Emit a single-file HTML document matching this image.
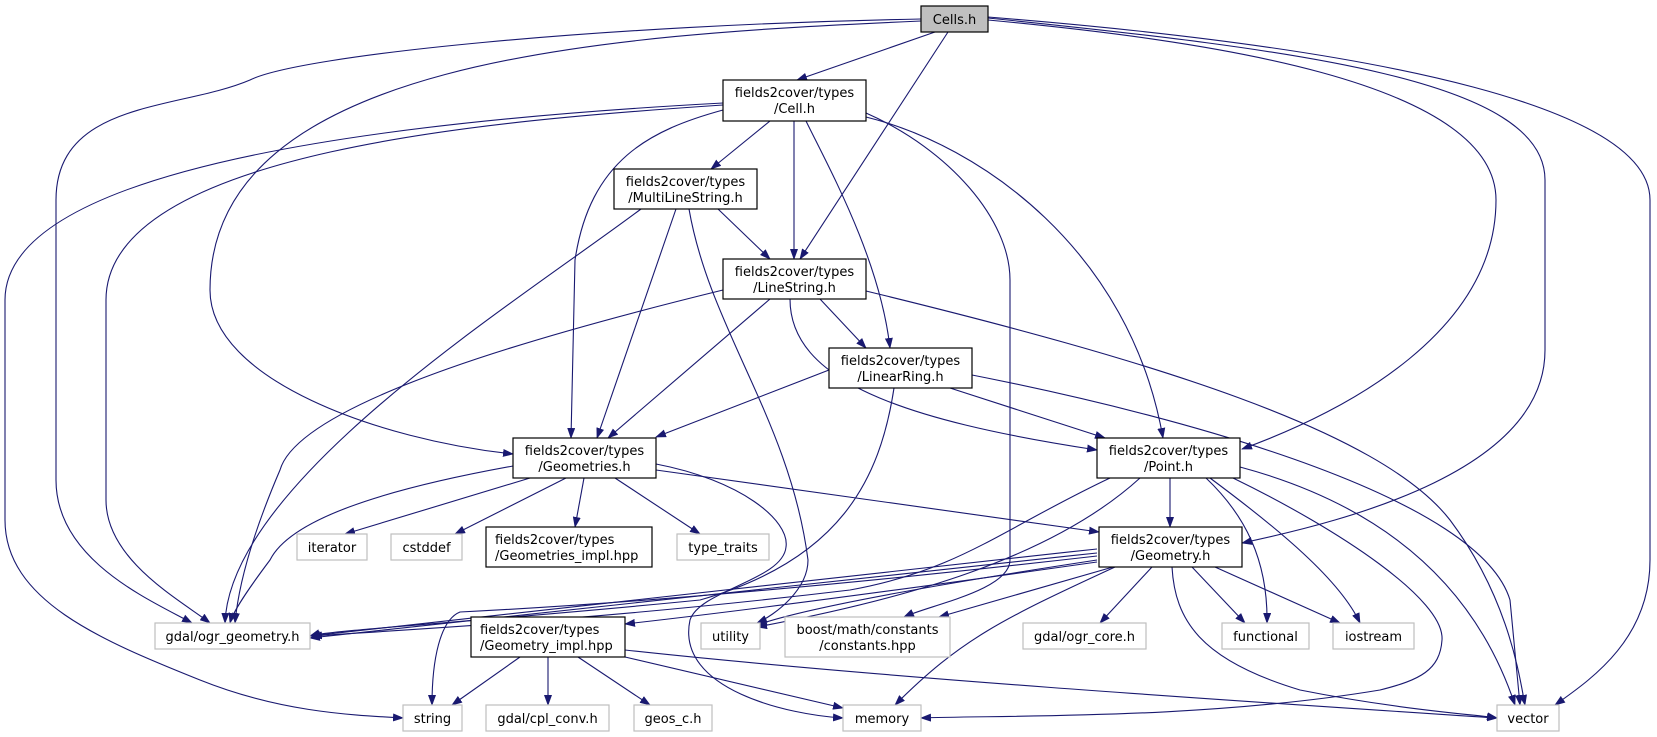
<!DOCTYPE html>
<html><head><meta charset="utf-8"><style>
html,body{margin:0;padding:0;background:#fff;}
svg{display:block;}
text{font-family:"DejaVu Sans","Liberation Sans",sans-serif;font-size:13px;fill:#000;}
.e{fill:none;stroke:#191970;stroke-width:1.1;marker-end:url(#a);}
.d{fill:#fff;stroke:#000;stroke-width:1.2;}
.x{fill:#fff;stroke:#bfbfbf;stroke-width:1.2;}
</style></head><body>
<svg width="1657" height="737" viewBox="0 0 1657 737" xmlns="http://www.w3.org/2000/svg">
<defs><marker id="a" markerWidth="11" markerHeight="8" refX="10" refY="4" orient="auto" markerUnits="userSpaceOnUse"><path d="M0,0 L11,4 L0,8 z" fill="#191970"/></marker></defs>
<g>
<path class="e" d="M935,32 L797,80"/>
<path class="e" d="M948,32 L800,259"/>
<path class="e" d="M921,19 C600,25 300,55 250,80 C180,110 56,100 56,200 L56,480 C56,560 150,600 192,623"/>
<path class="e" d="M921,21 C600,35 210,60 210,290 C210,380 380,440 513,454"/>
<path class="e" d="M988,20 C1200,40 1496,80 1496,200 C1496,330 1350,410 1242,449"/>
<path class="e" d="M988,18 C1300,50 1545,80 1545,180 L1545,350 C1545,470 1350,520 1242,543"/>
<path class="e" d="M988,17 C1400,50 1650,110 1650,200 L1650,560 C1650,640 1590,680 1555,705"/>
<path class="e" d="M770,121 L711,169"/>
<path class="e" d="M794,121 L794,259"/>
<path class="e" d="M806,121 C830,170 880,260 890,348"/>
<path class="e" d="M723,110 C650,130 590,160 575,260 L571,438"/>
<path class="e" d="M723,105 C500,120 106,150 106,300 L106,500 C106,560 180,600 210,623"/>
<path class="e" d="M723,103 C500,115 5,150 5,300 L5,520 C5,600 100,640 200,680 C280,712 350,715 403,718"/>
<path class="e" d="M866,113 C950,150 1010,220 1010,280 L1010,560 C1010,590 930,605 904,617"/>
<path class="e" d="M866,117 C980,145 1130,250 1163,438"/>
<path class="e" d="M718,209 L770,259"/>
<path class="e" d="M676,209 L597,438"/>
<path class="e" d="M641,209 C520,300 230,480 225,623"/>
<path class="e" d="M689,209 C710,330 790,420 808,560 C808,590 775,615 757,623"/>
<path class="e" d="M820,299 L866,348"/>
<path class="e" d="M770,299 L608,438"/>
<path class="e" d="M723,290 C560,330 300,400 280,470 C250,540 238,590 235,623"/>
<path class="e" d="M790,299 C790,380 900,420 1097,450"/>
<path class="e" d="M866,291 C1150,360 1380,430 1450,520 C1510,600 1520,680 1525,705"/>
<path class="e" d="M829,370 L656,437"/>
<path class="e" d="M950,388 L1105,438"/>
<path class="e" d="M894,388 C880,480 840,560 700,600 C500,620 330,630 310,636"/>
<path class="e" d="M972,375 C1200,420 1480,500 1510,600 L1520,705"/>
<path class="e" d="M656,470 L1099,532"/>
<path class="e" d="M513,466 C380,490 290,520 270,560 C240,600 232,615 230,623"/>
<path class="e" d="M530,478 L345,534"/>
<path class="e" d="M566,478 L455,534"/>
<path class="e" d="M584,478 L575,527"/>
<path class="e" d="M615,478 L700,534"/>
<path class="e" d="M656,464 C740,480 790,520 786,547 C783,580 700,590 690,620 C675,690 790,715 843,718"/>
<path class="e" d="M1170,478 L1170,527"/>
<path class="e" d="M1110,478 C1000,530 960,570 850,590 C600,620 400,630 312,636"/>
<path class="e" d="M1140,478 C1050,560 900,600 757,627"/>
<path class="e" d="M1206,478 C1245,515 1268,560 1267,623"/>
<path class="e" d="M1210,478 C1280,530 1340,580 1360,623"/>
<path class="e" d="M1233,478 C1340,530 1445,600 1442,640 C1440,670 1420,680 1380,690 C1200,720 1000,715 921,718"/>
<path class="e" d="M1240,467 C1400,510 1480,600 1515,705"/>
<path class="e" d="M1097,549 C800,580 500,615 310,636"/>
<path class="e" d="M1097,553 C800,584 500,618 310,638"/>
<path class="e" d="M1097,556 C800,590 600,605 460,612 C440,620 432,660 432,705"/>
<path class="e" d="M1097,560 C900,590 800,610 757,625"/>
<path class="e" d="M1097,562 C900,590 750,610 625,624"/>
<path class="e" d="M1113,567 L939,617"/>
<path class="e" d="M1115,567 C1000,620 960,640 895,705"/>
<path class="e" d="M1152,567 L1100,623"/>
<path class="e" d="M1192,567 L1245,623"/>
<path class="e" d="M1215,567 L1340,623"/>
<path class="e" d="M1172,567 C1175,620 1200,660 1300,690 C1400,710 1480,715 1497,718"/>
<path class="e" d="M520,657 L452,705"/>
<path class="e" d="M548,657 L548,705"/>
<path class="e" d="M578,657 L650,705"/>
<path class="e" d="M625,657 L843,708"/>
<path class="e" d="M625,650 C900,680 1300,705 1497,718"/>
</g>
<rect x="921" y="6" width="67" height="26" fill="#bfbfbf" stroke="#000" stroke-width="1.2"/>
<text x="954.5" y="24" text-anchor="middle">Cells.h</text>

<rect class="d" x="723" y="80" width="143" height="41"/>
<text x="794.5" y="97" text-anchor="middle">fields2cover/types</text>
<text x="794.5" y="113" text-anchor="middle">/Cell.h</text>

<rect class="d" x="614" y="169" width="143" height="40"/>
<text x="685.5" y="186" text-anchor="middle">fields2cover/types</text>
<text x="685.5" y="202" text-anchor="middle">/MultiLineString.h</text>

<rect class="d" x="723" y="259" width="143" height="40"/>
<text x="794.5" y="276" text-anchor="middle">fields2cover/types</text>
<text x="794.5" y="292" text-anchor="middle">/LineString.h</text>

<rect class="d" x="829" y="348" width="143" height="40"/>
<text x="900.5" y="365" text-anchor="middle">fields2cover/types</text>
<text x="900.5" y="381" text-anchor="middle">/LinearRing.h</text>

<rect class="d" x="513" y="438" width="143" height="40"/>
<text x="584.5" y="455" text-anchor="middle">fields2cover/types</text>
<text x="584.5" y="471" text-anchor="middle">/Geometries.h</text>

<rect class="d" x="1097" y="438" width="143" height="40"/>
<text x="1168.5" y="455" text-anchor="middle">fields2cover/types</text>
<text x="1168.5" y="471" text-anchor="middle">/Point.h</text>

<rect class="d" x="1099" y="527" width="143" height="40"/>
<text x="1170.5" y="544" text-anchor="middle">fields2cover/types</text>
<text x="1170.5" y="560" text-anchor="middle">/Geometry.h</text>

<rect class="x" x="297" y="534" width="70" height="26"/>
<text x="332" y="552" text-anchor="middle">iterator</text>
<rect class="x" x="391" y="534" width="71" height="26"/>
<text x="426.5" y="552" text-anchor="middle">cstddef</text>
<rect class="d" x="486" y="527" width="166" height="40"/>
<text x="495" y="544">fields2cover/types</text>
<text x="495" y="560">/Geometries_impl.hpp</text>
<rect class="x" x="677" y="534" width="92" height="26"/>
<text x="723" y="552" text-anchor="middle">type_traits</text>

<rect class="x" x="155" y="623" width="155" height="26"/>
<text x="232.5" y="641" text-anchor="middle">gdal/ogr_geometry.h</text>
<rect class="d" x="471" y="617" width="154" height="40"/>
<text x="480" y="634">fields2cover/types</text>
<text x="480" y="650">/Geometry_impl.hpp</text>
<rect class="x" x="701" y="623" width="59" height="26"/>
<text x="730.5" y="641" text-anchor="middle">utility</text>
<rect class="x" x="785" y="617" width="165" height="40"/>
<text x="867.5" y="634" text-anchor="middle">boost/math/constants</text>
<text x="867.5" y="650" text-anchor="middle">/constants.hpp</text>
<rect class="x" x="1023" y="623" width="123" height="26"/>
<text x="1084.5" y="641" text-anchor="middle">gdal/ogr_core.h</text>
<rect class="x" x="1222" y="623" width="87" height="26"/>
<text x="1265.5" y="641" text-anchor="middle">functional</text>
<rect class="x" x="1333" y="623" width="81" height="26"/>
<text x="1373.5" y="641" text-anchor="middle">iostream</text>

<rect class="x" x="403" y="705" width="59" height="26"/>
<text x="432.5" y="723" text-anchor="middle">string</text>
<rect class="x" x="486" y="705" width="123" height="26"/>
<text x="547.5" y="723" text-anchor="middle">gdal/cpl_conv.h</text>
<rect class="x" x="634" y="705" width="78" height="26"/>
<text x="673" y="723" text-anchor="middle">geos_c.h</text>
<rect class="x" x="843" y="705" width="78" height="26"/>
<text x="882" y="723" text-anchor="middle">memory</text>
<rect class="x" x="1497" y="705" width="62" height="26"/>
<text x="1528" y="723" text-anchor="middle">vector</text>
</svg>
</body></html>
